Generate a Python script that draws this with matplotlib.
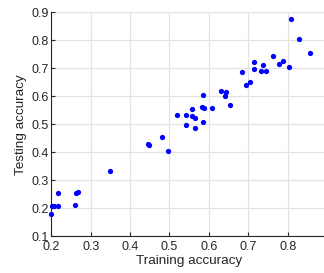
import matplotlib
matplotlib.use("Agg")
import matplotlib.pyplot as plt

# training / testing accuracy pairs
train_acc = [0.200, 0.2025, 0.207, 0.217, 0.216, 0.260, 0.262, 0.268,
             0.348, 0.445, 0.448, 0.482, 0.497,
             0.520, 0.541, 0.541, 0.557, 0.558, 0.566, 0.566, 0.583, 0.584,
             0.587, 0.586, 0.608, 0.631, 0.643, 0.641, 0.654,
             0.683, 0.694, 0.704, 0.714, 0.714, 0.733, 0.737, 0.744,
             0.764, 0.777, 0.787, 0.804, 0.808, 0.830, 0.857]
test_acc = [0.178, 0.209, 0.209, 0.209, 0.254, 0.212, 0.256, 0.258,
            0.334, 0.430, 0.427, 0.454, 0.404,
            0.534, 0.534, 0.496, 0.554, 0.529, 0.523, 0.487, 0.562, 0.507,
            0.557, 0.603, 0.557, 0.620, 0.614, 0.602, 0.568,
            0.686, 0.640, 0.650, 0.722, 0.697, 0.690, 0.713, 0.690,
            0.744, 0.715, 0.726, 0.705, 0.876, 0.806, 0.754]

x_ticks = [0.2, 0.3, 0.4, 0.5, 0.6, 0.7, 0.8]
y_ticks = [0.1, 0.2, 0.3, 0.4, 0.5, 0.6, 0.7, 0.8, 0.9]

plt.rcParams['font.family'] = ['Liberation Sans', 'DejaVu Sans']
txt = '#262626'

fig = plt.figure(figsize=(3.24, 2.73), dpi=100)
ax = fig.add_axes([0.1583, 0.1344, 0.8512, 0.8205])

ax.plot(train_acc, test_acc, 'o', color='#0000ff', markersize=3.8,
        markeredgewidth=0, zorder=3, clip_on=False)

ax.set_xlim(0.2, 0.9)
ax.set_ylim(0.1, 0.9)
ax.set_xticks(x_ticks)
ax.set_yticks(y_ticks)
ax.set_xticklabels([f"{v:.1f}" for v in x_ticks])
ax.set_yticklabels([f"{v:.1f}" for v in y_ticks])

ax.grid(True, color='#e3e3e3', linewidth=0.9)
ax.set_axisbelow(True)
ax.spines['top'].set_visible(False)
ax.spines['right'].set_visible(False)
for s in ['left', 'bottom']:
    ax.spines[s].set_color(txt)
    ax.spines[s].set_linewidth(0.8)

ax.tick_params(direction='in', length=3, width=0.8, colors=txt,
               labelsize=9)
ax.tick_params(axis='x', pad=3.5)
ax.tick_params(axis='y', pad=2)
ax.set_xlabel("Training accuracy", fontsize=9.7, color=txt, labelpad=1.5)
ax.set_ylabel("Testing accuracy", fontsize=9.7, color=txt, labelpad=3)

fig.savefig("out.png", dpi=100)
plt.close(fig)
